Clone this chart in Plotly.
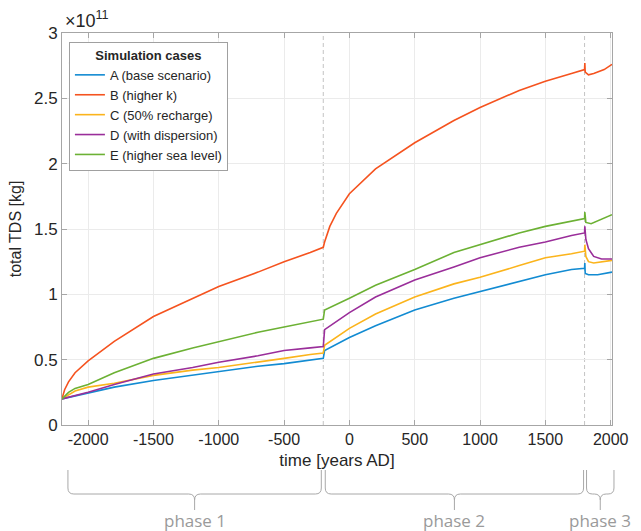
import plotly.graph_objects as go

# ---- data (total TDS in units of 1e11 kg) ----
years_A = [-2200, -2000, -1800, -1500, -1200, -1000, -700, -500, -300, -200, -190, -100, 0, 200, 500, 800, 1000, 1300, 1500, 1700, 1800, 1802, 1805, 1830, 1900, 2010]
tds_A = [0.20, 0.245, 0.29, 0.34, 0.38, 0.41, 0.45, 0.47, 0.50, 0.51, 0.57, 0.62, 0.67, 0.76, 0.88, 0.97, 1.02, 1.10, 1.15, 1.19, 1.20, 1.24, 1.16, 1.15, 1.15, 1.17]

years_B = [-2200, -2180, -2150, -2100, -2000, -1800, -1500, -1200, -1000, -700, -500, -300, -200, -190, -150, -100, 0, 200, 500, 800, 1000, 1300, 1500, 1700, 1800, 1802, 1805, 1830, 1870, 1950, 2010]
tds_B = [0.20, 0.27, 0.33, 0.40, 0.49, 0.64, 0.83, 0.97, 1.06, 1.17, 1.25, 1.32, 1.36, 1.40, 1.52, 1.62, 1.77, 1.96, 2.16, 2.33, 2.43, 2.56, 2.63, 2.69, 2.72, 2.77, 2.70, 2.68, 2.69, 2.72, 2.76]

years_C = [-2200, -2100, -2000, -1800, -1500, -1200, -1000, -700, -500, -300, -200, -190, -100, 0, 200, 500, 800, 1000, 1300, 1500, 1700, 1800, 1802, 1810, 1830, 1870, 2010]
tds_C = [0.20, 0.26, 0.29, 0.32, 0.38, 0.42, 0.44, 0.48, 0.51, 0.54, 0.55, 0.61, 0.67, 0.74, 0.85, 0.98, 1.08, 1.13, 1.22, 1.28, 1.31, 1.33, 1.38, 1.29, 1.25, 1.24, 1.26]

years_D = [-2200, -2000, -1800, -1500, -1200, -1000, -700, -500, -300, -200, -190, -100, 0, 200, 500, 800, 1000, 1300, 1500, 1700, 1800, 1802, 1810, 1830, 1870, 1930, 2010]
tds_D = [0.20, 0.25, 0.31, 0.39, 0.44, 0.48, 0.53, 0.57, 0.59, 0.60, 0.73, 0.79, 0.86, 0.98, 1.11, 1.21, 1.28, 1.36, 1.40, 1.45, 1.47, 1.52, 1.42, 1.35, 1.29, 1.27, 1.27]

years_E = [-2200, -2150, -2100, -2000, -1800, -1500, -1200, -1000, -700, -500, -300, -200, -190, -100, 0, 200, 500, 800, 1000, 1300, 1500, 1700, 1800, 1802, 1810, 1850, 1900, 2010]
tds_E = [0.20, 0.25, 0.28, 0.31, 0.40, 0.51, 0.59, 0.64, 0.71, 0.75, 0.79, 0.81, 0.88, 0.92, 0.97, 1.07, 1.19, 1.32, 1.38, 1.47, 1.52, 1.56, 1.58, 1.63, 1.55, 1.54, 1.56, 1.61]

case_names = ["A (base scenario)", "B (higher k)", "C (50% recharge)", "D (with dispersion)", "E (higher sea level)"]
case_colors = ["#128bd2", "#f5531f", "#fbb41c", "#9a2e9a", "#6cb134"]

phase_bounds = [-2200, -200, 1800, 2010]
phase_labels = ["phase 1", "phase 2", "phase 3"]
x_ticks = [-2000, -1500, -1000, -500, 0, 500, 1000, 1500, 2000]
y_ticks = [0, 0.5, 1, 1.5, 2, 2.5, 3]
x_range = [-2200, 2010]
y_range = [0, 3]

W, H = 641, 531
ML, MR, MT, MB = 62, 22, 33, 106
PW, PH = W - ML - MR, H - MT - MB

FONT = "Liberation Sans, Arial, sans-serif"

fig = go.Figure()
series = [(years_A, tds_A), (years_B, tds_B), (years_C, tds_C), (years_D, tds_D), (years_E, tds_E)]
for (xs, ys), name, col in zip(series, case_names, case_colors):
    fig.add_trace(go.Scatter(x=xs, y=ys, mode="lines", name=name,
                             line=dict(color=col, width=1.6)))

# dashed phase boundaries
for b in phase_bounds[1:3]:
    fig.add_shape(type="line", xref="x", yref="paper", x0=b, x1=b, y0=0, y1=1,
                  line=dict(color="#c4c4c4", width=1, dash="4px,3px"), layer="below")


def xp(v):
    return (v - x_range[0]) / (x_range[1] - x_range[0])


def pyp(py):
    # pixel y (from top of page) -> paper y
    return (H - MB - py) / PH


def pxp(px):
    return (px - ML) / PW


# curly braces under axis
top, mid, tip = pyp(470), pyp(494), pyp(510)
rx = 6 / PW
ry = 6 / PH
gaps = [(6, -2), (2, -1), (2, -1)]
for i in range(3):
    a = xp(phase_bounds[i]) + gaps[i][0] / PW
    b = xp(phase_bounds[i + 1]) + gaps[i][1] / PW
    if i == 2:
        b = pxp(621)
    c = (a + b) / 2
    r = min(rx, (b - a) / 4)
    path = (f"M {a},{top} L {a},{mid + ry} Q {a},{mid} {a + r},{mid} "
            f"L {c - r},{mid} Q {c},{mid} {c},{mid - ry} L {c},{tip} "
            f"M {c},{mid - ry} Q {c},{mid} {c + r},{mid} "
            f"L {b - r},{mid} Q {b},{mid} {b},{mid + ry} L {b},{top}")
    fig.add_shape(type="path", xref="paper", yref="paper", path=path,
                  line=dict(color="#a8a8a8", width=1))
    fig.add_annotation(x=c, y=pyp(520), xref="paper", yref="paper",
                       text=phase_labels[i], showarrow=False,
                       font=dict(family="Open Sans, sans-serif", size=17, color="#9a9a9a"),
                       xanchor="center", yanchor="middle")

# exponent label
fig.add_annotation(x=pxp(63), y=pyp(20), xref="paper", yref="paper",
                   text="×10<sup>11</sup>", showarrow=False, xanchor="left", yanchor="middle",
                   font=dict(family=FONT, size=18, color="#262626"))

# legend title separator
fig.add_shape(type="line", xref="paper", yref="paper", x0=pxp(69), x1=pxp(218),
              y0=pyp(63), y1=pyp(63), line=dict(color="#a0a0a0", width=1))

fig.update_layout(
    width=W, height=H,
    margin=dict(l=ML, r=MR, t=MT, b=MB),
    paper_bgcolor="white", plot_bgcolor="white",
    font=dict(family=FONT, size=15, color="#262626"),
    legend=dict(
        x=pxp(69), y=pyp(42), xanchor="left", yanchor="top",
        bgcolor="white", bordercolor="#a0a0a0", borderwidth=1,
        font=dict(family=FONT, size=13, color="#262626"),
        title=dict(text="<b>Simulation cases</b>", side="top center",
                   font=dict(family=FONT, size=13, color="#262626")),
        tracegroupgap=0, itemwidth=30,
    ),
    xaxis=dict(
        range=x_range, tickvals=x_ticks, ticktext=[str(t) for t in x_ticks],
        showgrid=True, gridcolor="#ebebeb", gridwidth=1, zeroline=False,
        showline=True, linecolor="#a6a6a6", linewidth=1, mirror="ticks",
        ticks="inside", ticklen=5, tickcolor="#a6a6a6",
        tickfont=dict(size=16, color="#262626"),
        title=dict(text="time [years AD]", font=dict(size=17, color="#262626"), standoff=6),
    ),
    yaxis=dict(
        range=y_range, tickvals=y_ticks, ticktext=[f"{t:g}" for t in y_ticks],
        showgrid=True, gridcolor="#ebebeb", gridwidth=1, zeroline=False,
        showline=True, linecolor="#a6a6a6", linewidth=1, mirror="ticks",
        ticks="inside", ticklen=5, tickcolor="#a6a6a6",
        tickfont=dict(size=17, color="#262626"),
        title=dict(text="total TDS [kg]", font=dict(size=16, color="#262626"), standoff=8),
    ),
    showlegend=True,
)

fig.write_html("out.html")
